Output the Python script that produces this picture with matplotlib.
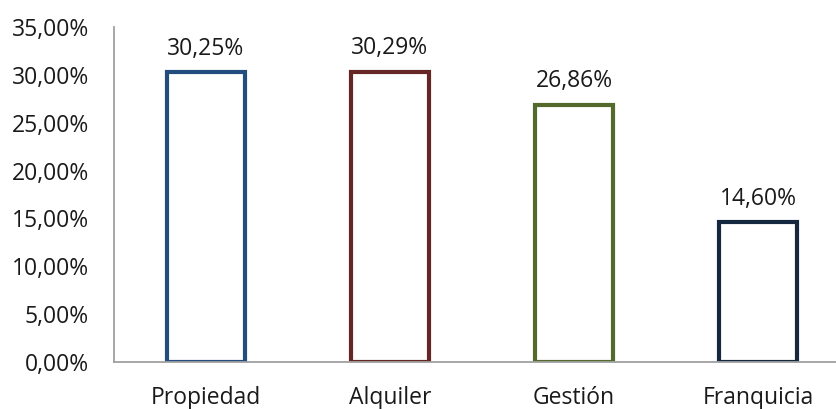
import matplotlib.pyplot as plt
from matplotlib.ticker import FuncFormatter

categories = ['Propiedad', 'Alquiler', 'Gestión', 'Franquicia']
values = [30.25, 30.29, 26.86, 14.60]
colors = ['#234C7F', '#662626', '#546A2C', '#15283F']

plt.rcParams['font.family'] = ['Open Sans', 'DejaVu Sans']

fig = plt.figure(figsize=(8.36, 4.09), dpi=100)
# axes run past the right edge, as in the original
ax = fig.add_axes([114 / 836, (409 - 362) / 409, 736 / 836, 335 / 409])

x = range(len(categories))
ax.bar(x, values, width=0.42, facecolor='white', edgecolor=colors, linewidth=3.0)

for xi, v in zip(x, values):
    ax.text(xi, v + 1.85, f'{v:.2f}%'.replace('.', ','), ha='center', va='baseline',
            fontsize=16.5, color='#1a1a1a')

ax.set_xlim(-0.5, 3.5)
ax.set_ylim(0, 35)
ax.set_yticks(range(0, 36, 5))
ax.yaxis.set_major_formatter(FuncFormatter(lambda v, p: f'{v:.2f}%'.replace('.', ',')))
ax.set_xticks(list(x))
ax.set_xticklabels(categories)
ax.tick_params(axis='both', length=0, labelsize=16.5, colors='#1a1a1a')
ax.tick_params(axis='y', pad=18)
ax.tick_params(axis='x', pad=17)

for s in ['top', 'right']:
    ax.spines[s].set_visible(False)
for s in ['left', 'bottom']:
    ax.spines[s].set_color('#a0a0a0')
    ax.spines[s].set_linewidth(1.3)

fig.savefig('out.png', dpi=100)
